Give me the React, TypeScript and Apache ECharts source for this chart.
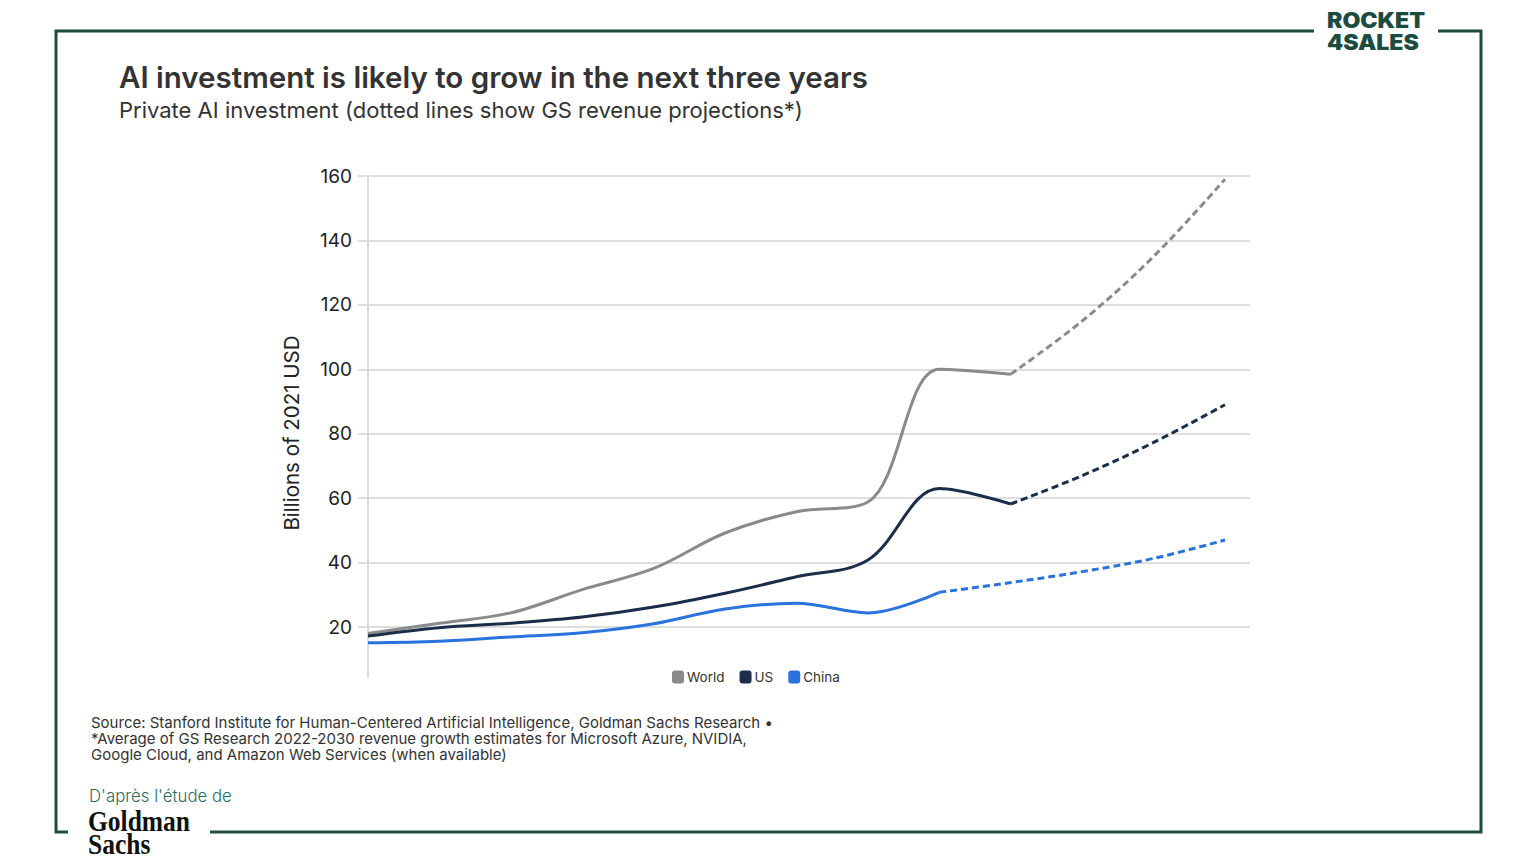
import React, { useEffect, useRef } from "react";
import * as echarts from "echarts";

// Private AI investment, billions of 2021 USD
const years = [2013, 2014, 2015, 2016, 2017, 2018, 2019, 2020, 2021, 2022, 2023, 2024, 2025];
const worldActual = [18, 21.2, 24.4, 31.6, 38.2, 49.2, 55.8, 58.8, 100, 98.5]; // 2013–2022
const worldProjected = [98.5, 115, 135, 159]; // 2022–2025
const usActual = [17.2, 19.8, 21.2, 23.1, 26.2, 30.5, 35.6, 40.8, 63, 58.2]; // 2013–2022
const usProjected = [58.2, 67, 77.3, 89]; // 2022–2025
const chinaActual = [15.1, 15.6, 16.9, 18.2, 21, 25.6, 27.4, 24.4, 30.8]; // 2013–2021
const chinaProjected = [30.8, 33.8, 37.2, 41.3, 47]; // 2021–2025
const seriesNames = ["World", "US", "China"];
const yTickValues = [20, 40, 60, 80, 100, 120, 140, 160];

const colors: Record<string, string> = { World: "#8a8a8a", US: "#1b2d49", China: "#2a72dc" };
const frameColor = "#1c4c3f";
const font = "Inter, Roboto, 'Noto Sans', sans-serif";

// pair each value with its year index (0 = first year) starting at a given year
const toPoints = (values: number[], startYear: number) =>
  values.map((v, i) => [startYear - years[0] + i, v]);

export default function App() {
  const ref = useRef<HTMLDivElement>(null);

  useEffect(() => {
    document.body.style.margin = "0";
    const chart = echarts.init(ref.current!, null, { renderer: "svg" });

    const line = (name: string, data: number[][], projected: boolean) => ({
      name,
      type: "line",
      data,
      smooth: 0.35,
      showSymbol: false,
      symbol: "none",
      lineStyle: { width: 3, color: colors[name], type: projected ? [7, 4] : "solid" },
      itemStyle: { color: colors[name] },
      z: projected ? 2 : 3,
    });

    const splitColors = ["rgba(0,0,0,0)"].concat(new Array(yTickValues.length).fill("#dedede"));

    chart.setOption({
      animation: false,
      backgroundColor: "#ffffff",
      textStyle: { fontFamily: font },
      grid: { left: 358, right: 286, top: 176, bottom: 187, containLabel: false },
      xAxis: {
        type: "value",
        min: -0.14,
        max: 12.35,
        show: false,
      },
      yAxis: {
        type: "value",
        min: 4.5,
        max: 160,
        splitNumber: 8,
        axisLine: { show: true, onZero: true, lineStyle: { color: "#dcdcdc", width: 2 } },
        axisTick: { show: false },
        axisLabel: {
          showMinLabel: false,
          margin: 6,
          fontSize: 19,
          color: "#222",
          fontFamily: font,
          formatter: (v: number) =>
            yTickValues.includes(Math.round(v)) && Math.abs(v - Math.round(v)) < 1e-6 ? String(v) : "",
        },
        splitLine: { show: true, lineStyle: { color: splitColors, width: 2 } },
      },
      legend: {
        data: seriesNames,
        left: 672,
        top: 670,
        padding: 0,
        icon: "roundRect",
        itemWidth: 12,
        itemHeight: 13,
        itemGap: 15,
        textStyle: { fontSize: 13.5, color: "#333", fontFamily: font, padding: [0, 0, 0, -2] },
      },
      series: [
        line("World", toPoints(worldActual, 2013), false),
        line("US", toPoints(usActual, 2013), false),
        line("China", toPoints(chinaActual, 2013), false),
        line("World", toPoints(worldProjected, 2022), true),
        line("US", toPoints(usProjected, 2022), true),
        line("China", toPoints(chinaProjected, 2021), true),
      ],
      graphic: [
        // frame, interrupted by the logos
        {
          type: "polyline",
          shape: { points: [[1314, 31], [56, 31], [56, 832], [68, 832]] },
          style: { stroke: frameColor, lineWidth: 3, fill: "none" },
        },
        {
          type: "polyline",
          shape: { points: [[1438, 31], [1481, 31], [1481, 832], [210, 832]] },
          style: { stroke: frameColor, lineWidth: 3, fill: "none" },
        },
        // brand logo
        {
          type: "text",
          x: 1327,
          y: 9,
          scaleX: 1.1,
          originX: 0,
          style: {
            text: "ROCKET\n4SALES",
            font: `900 21px ${font}`,
            lineHeight: 22,
            fill: frameColor,
            textVerticalAlign: "top",
          },
        },
        // y-axis title
        {
          type: "text",
          x: 291,
          y: 433,
          rotation: Math.PI / 2,
          style: {
            text: "Billions of 2021 USD",
            font: `20.5px ${font}`,
            fill: "#222",
            textAlign: "center",
            textVerticalAlign: "middle",
          },
        },
        // title block
        {
          type: "text",
          x: 119,
          y: 77,
          style: {
            text: "AI investment is likely to grow in the next three years",
            font: `600 29.5px ${font}`,
            fill: "#333",
            textVerticalAlign: "middle",
          },
        },
        {
          type: "text",
          x: 119,
          y: 110,
          style: {
            text: "Private AI investment (dotted lines show GS revenue projections*)",
            font: `22px ${font}`,
            fill: "#333",
            textVerticalAlign: "middle",
          },
        },
        // notes
        {
          type: "text",
          x: 91,
          y: 714,
          style: {
            text:
              "Source: Stanford Institute for Human-Centered Artificial Intelligence, Goldman Sachs Research •\n*Average of GS Research 2022-2030 revenue growth estimates for Microsoft Azure, NVIDIA,\nGoogle Cloud, and Amazon Web Services (when available)",
            font: `15px ${font}`,
            lineHeight: 16,
            fill: "#333",
            textVerticalAlign: "top",
          },
        },
        {
          type: "text",
          x: 89,
          y: 796,
          style: { text: "D'après l'étude de", font: `300 16.8px ${font}`, fill: "#2e6b5b", textVerticalAlign: "middle" },
        },
        {
          type: "text",
          x: 88,
          y: 810,
          scaleX: 0.88,
          originX: 0,
          style: {
            text: "Goldman\nSachs",
            font: `bold 29px 'Liberation Serif', 'DejaVu Serif', serif`,
            lineHeight: 23,
            fill: "#111",
            textVerticalAlign: "top",
          },
        },
      ],
    });

    return () => chart.dispose();
  }, []);

  return (
    <div
      ref={ref}
      style={{ position: "fixed", left: 0, top: 0, width: 1536, height: 864, background: "#fff" }}
    />
  );
}
